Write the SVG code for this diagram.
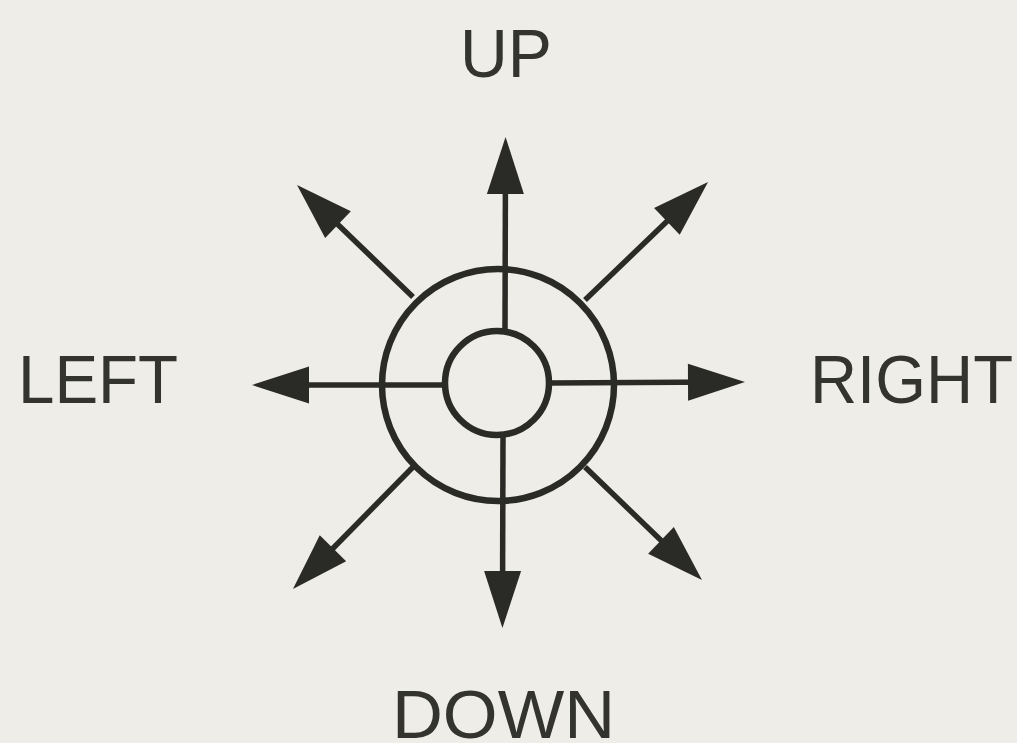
<svg xmlns="http://www.w3.org/2000/svg" width="1017" height="743" viewBox="0 0 1017 743">
<style>
.ring{fill:none;stroke:#2a2a27;stroke-width:6.5}
.conn{stroke:#2a2a27;stroke-width:5.5;fill:none;marker-end:url(#head)}
.lbl{font-family:"Liberation Sans",Arial,sans-serif;font-size:68px;fill:#333330}
</style>
<defs>
<marker id="head" markerUnits="userSpaceOnUse" viewBox="-40 -20 62 40" refX="0" refY="0" markerWidth="62" markerHeight="40" orient="auto" overflow="visible">
<path d="M20,0 L-37,-18.5 L-37,18.5 Z" fill="#2a2a27"/>
</marker>
</defs>
<rect width="1017" height="743" fill="#efede8"/>
<g id="joystick">
<circle class="ring" cx="498" cy="385" r="116"/>
<circle class="ring" cx="497" cy="383" r="52"/>
</g>
<g id="connectors">
<line class="conn" x1="505" y1="331" x2="505.5" y2="157"/>
<line class="conn" x1="503" y1="435" x2="502.5" y2="608"/>
<line class="conn" x1="445" y1="385" x2="272" y2="385"/>
<line class="conn" x1="549" y1="383" x2="725" y2="382"/>
<line class="conn" x1="413" y1="297" x2="311.4" y2="198.9"/>
<line class="conn" x1="585" y1="300" x2="693.6" y2="195.8"/>
<line class="conn" x1="413" y1="467" x2="307" y2="574.7"/>
<line class="conn" x1="585" y1="467" x2="687.6" y2="566.1"/>
</g>
<g id="label-up"><text class="lbl" x="460" y="77" textLength="92" lengthAdjust="spacingAndGlyphs">UP</text></g>
<g id="label-left"><text class="lbl" x="18" y="403" textLength="160" lengthAdjust="spacingAndGlyphs">LEFT</text></g>
<g id="label-right"><text class="lbl" x="810" y="403" textLength="203" lengthAdjust="spacingAndGlyphs">RIGHT</text></g>
<g id="label-down"><text class="lbl" x="392" y="738" textLength="223" lengthAdjust="spacingAndGlyphs">DOWN</text></g>
</svg>
